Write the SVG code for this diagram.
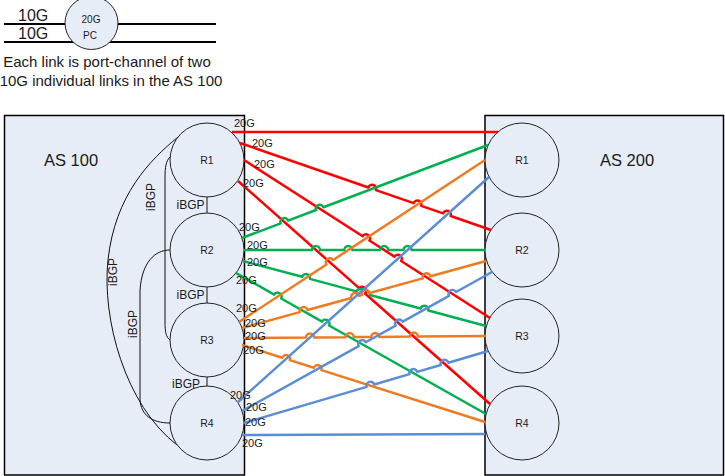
<svg xmlns="http://www.w3.org/2000/svg" width="725" height="476" viewBox="0 0 725 476">
<style>
text{font-family:"Liberation Sans",Arial,sans-serif;fill:#1a1a1a}
.box{fill:#E7EDF7;stroke:#000;stroke-width:1.5}
.rt{fill:#E7EDF7;stroke:#222;stroke-width:1}
.rl{font-size:10.5px;text-anchor:middle}
.as{font-size:16.5px}
.ib{font-size:12px}
.ibl{fill:none;stroke:#111;stroke-width:1}
.lk{fill:none;stroke-width:2.5;stroke-linejoin:round}
.r{stroke:#FF0000}.g{stroke:#00B050}.o{stroke:#EE7A22}.b{stroke:#5B8CD6}
.gl{font-size:11px}
.leg{stroke:#000;stroke-width:2}
</style>
<rect x="0" y="0" width="725" height="476" fill="#fff"/>

<g id="legend">
<line class="leg" x1="4" y1="24" x2="216" y2="24"/>
<line class="leg" x1="4" y1="42" x2="216" y2="42"/>
<circle class="rt" cx="91.5" cy="23" r="26.5"/>
<text x="18" y="21" font-size="16">10G</text>
<text x="18" y="39" font-size="16">10G</text>
<text x="91" y="23" font-size="10" text-anchor="middle">20G</text>
<text x="90" y="39" font-size="10" text-anchor="middle">PC</text>
<text x="107" y="67" font-size="15" text-anchor="middle">Each link is port-channel of two</text>
<text x="111" y="86" font-size="15" text-anchor="middle">10G individual links in the AS 100</text>
</g>

<g id="as100">
<rect class="box" x="4.5" y="115.5" width="240" height="359.5"/>
<text class="as" x="44" y="166">AS 100</text>
</g>
<g id="as200">
<rect class="box" x="485" y="115.5" width="238.5" height="359.5"/>
<text class="as" x="600" y="166">AS 200</text>
</g>

<g id="ibgp">
<line class="ibl" x1="207" y1="197" x2="207" y2="213"/>
<line class="ibl" x1="207" y1="287" x2="207" y2="303"/>
<line class="ibl" x1="207" y1="377" x2="207" y2="386"/>
<path class="ibl" d="M170,157 C166,161 165,167 165,178 L165,322 C165,332 166,337 170,340"/>
<path class="ibl" d="M170,250 C155,250 142,262 140,290 L140,400 C141,415 152,423 170,423"/>
<path class="ibl" d="M178,137 C150,160 115,195 108,260 C101.7,318.5 125,405 177,445"/>
<text class="ib" x="190.5" y="209" text-anchor="middle">iBGP</text>
<text class="ib" x="190.5" y="299" text-anchor="middle">iBGP</text>
<text class="ib" x="186" y="388" text-anchor="middle">iBGP</text>
<text class="ib" text-anchor="middle" transform="translate(154.5,197) rotate(-90)">iBGP</text>
<text class="ib" text-anchor="middle" transform="translate(116.5,272) rotate(-90)">iBGP</text>
<text class="ib" text-anchor="middle" transform="translate(136.5,324) rotate(-90)">iBGP</text>
</g>

<g id="as100-r1"><circle class="rt" cx="207" cy="160" r="37"/><text class="rl" x="207" y="164">R1</text></g>
<g id="as100-r2"><circle class="rt" cx="207" cy="250" r="37"/><text class="rl" x="207" y="254">R2</text></g>
<g id="as100-r3"><circle class="rt" cx="207" cy="340" r="37"/><text class="rl" x="207" y="344">R3</text></g>
<g id="as100-r4"><circle class="rt" cx="207" cy="423" r="37"/><text class="rl" x="207" y="427">R4</text></g>
<g id="as200-r1"><circle class="rt" cx="522" cy="160" r="37"/><text class="rl" x="522" y="164">R1</text></g>
<g id="as200-r2"><circle class="rt" cx="522" cy="250" r="37"/><text class="rl" x="522" y="254">R2</text></g>
<g id="as200-r3"><circle class="rt" cx="522" cy="336" r="37"/><text class="rl" x="522" y="340">R3</text></g>
<g id="as200-r4"><circle class="rt" cx="522" cy="423" r="37"/><text class="rl" x="522" y="427">R4</text></g>

<g id="connectors">
<path class="lk r" d="M232,132 L498,132"/>
<path class="lk r" d="M240,143 L368.36,187.49 A4 4 0 0 1 375.92,190.11 L413.65,203.19 A4 4 0 0 1 421.21,205.81 L443.14,213.41 A4 4 0 0 1 450.70,216.03 L491,230"/>
<path class="lk r" d="M244,160 L362.64,236.21 A4 4 0 0 1 369.38,240.53 L394.41,256.61 A4 4 0 0 1 401.15,260.93 L490,318"/>
<path class="lk r" d="M238,181 L359.06,288.14 A4 4 0 0 1 365.06,293.44 L490,404"/>

<path class="lk g" d="M242,238 L280.59,223.42 A4 4 0 0 1 288.07,220.59 L315.96,210.04 A4 4 0 0 1 323.44,207.21 L488,145"/>
<path class="lk g" d="M244,250 L311.97,250 A4 4 0 0 1 319.97,250 L344.33,250 A4 4 0 0 1 352.33,250 L380.13,250 A4 4 0 0 1 388.13,250 L403.57,250 A4 4 0 0 1 411.57,250 L485,250"/>
<path class="lk g" d="M243,261 L302.17,276.83 A4 4 0 0 1 309.89,278.89 L356.43,291.34 A7 4 15 0 1 369.95,294.96 L420.62,308.51 A4 4 0 0 1 428.34,310.57 L486,326"/>
<path class="lk g" d="M236,273 L274.22,294.56 A4 4 0 0 1 281.18,298.49 L322.08,321.55 A4 4 0 0 1 329.04,325.48 L486,414"/>

<path class="lk o" d="M239,322 L326.44,264.42 A4 4 0 0 1 333.12,260.02 L485,160"/>
<path class="lk o" d="M242,328 L299.69,312.16 A4 4 0 0 1 307.41,310.04 L351.38,297.96 A4 4 0 0 1 359.10,295.84 L361.86,295.08 A4 4 0 0 1 369.58,292.96 L422.77,278.36 A4 4 0 0 1 430.49,276.24 L486,261"/>
<path class="lk o" d="M244,338 L306.01,337.48 A4 4 0 0 1 314.01,337.42 L345.69,337.15 A4 4 0 0 1 353.69,337.09 L371.26,336.94 A4 4 0 0 1 379.26,336.88 L409.82,336.62 A4 4 0 0 1 417.82,336.56 L485,336"/>
<path class="lk o" d="M242,345 L282.22,357.74 A4 4 0 0 1 289.84,360.16 L313.80,367.75 A4 4 0 0 1 321.42,370.17 L485,422"/>

<path class="lk b" d="M238,402 L489,177"/>
<path class="lk b" d="M242,411 L358.69,346.11 A4 4 0 0 1 365.69,342.23 L395.66,325.55 A4 4 0 0 1 402.66,321.67 L449.04,295.88 A4 4 0 0 1 456.04,292.00 L492,272"/>
<path class="lk b" d="M244,423 L366.59,386.83 A4 4 0 0 1 374.27,384.57 L409.51,374.16 A4 4 0 0 1 417.19,371.90 L440.75,364.95 A4 4 0 0 1 448.43,362.69 L488,351"/>
<path class="lk b" d="M242,435 L485,434"/>
</g>

<g id="link-labels" class="gl">
<text class="gl" x="234" y="127">20G</text>
<text class="gl" x="252" y="147">20G</text>
<text class="gl" x="254" y="168">20G</text>
<text class="gl" x="243" y="187">20G</text>
<text class="gl" x="239" y="231">20G</text>
<text class="gl" x="247" y="249">20G</text>
<text class="gl" x="247" y="266">20G</text>
<text class="gl" x="236" y="284">20G</text>
<text class="gl" x="236" y="312">20G</text>
<text class="gl" x="245" y="327">20G</text>
<text class="gl" x="245" y="340">20G</text>
<text class="gl" x="243" y="354">20G</text>
<text class="gl" x="230" y="399">20G</text>
<text class="gl" x="246" y="411">20G</text>
<text class="gl" x="245" y="426">20G</text>
<text class="gl" x="242" y="447">20G</text>
</g>
</svg>
